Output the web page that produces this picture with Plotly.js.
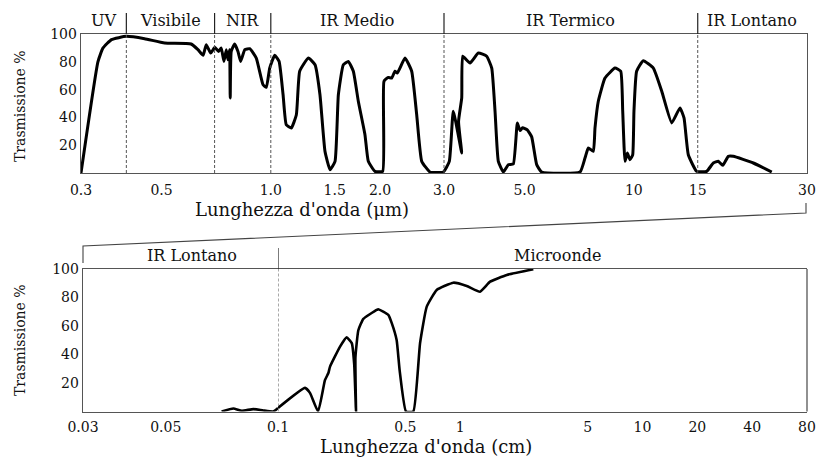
<!DOCTYPE html>
<html><head><meta charset="utf-8">
<script src="https://cdn.plot.ly/plotly-3.0.1.min.js"></script>
<style>html,body{margin:0;padding:0;background:#fff}#chart{width:819px;height:457px}</style>
</head><body><div id="chart"></div>
<script>
// ---- Data ----
const ir_wavelength_um = [0.300,0.334,0.345,0.364,0.400,0.449,0.510,0.603,0.630,0.651,
  0.664,0.683,0.701,0.718,0.730,0.743,0.754,0.762,0.770,0.773,
  0.778,0.795,0.812,0.826,0.848,0.875,0.912,0.952,0.972,0.993,
  1.025,1.054,1.081,1.103,1.139,1.176,1.201,1.269,1.324,1.366,
  1.410,1.456,1.503,1.535,1.584,1.635,1.688,1.742,1.817,1.856,
  1.936,2.033,2.050,2.107,2.153,2.198,2.231,2.343,2.444,2.523,
  2.605,2.745,2.987,3.103,3.182,3.357,3.290,3.357,3.378,3.538,
  3.730,3.933,4.061,4.147,4.234,4.371,4.511,4.657,4.777,4.859,
  4.940,5.089,5.232,5.401,5.574,7.108,7.337,7.494,7.735,7.818,
  7.983,8.330,8.876,9.204,9.321,9.457,9.597,9.761,9.929,10.01,
  10.18,10.62,11.32,11.94,12.72,13.40,13.75,14.13,14.90,15.88,
  16.56,17.09,17.58,18.21,18.80,21.34,23.99];
const ir_transmission = [0,80,90,96,98.3,96.6,93.5,92.8,88.7,84.7,
  92.3,86.3,90.4,87.5,89.9,80.3,88.7,81.5,88.7,54,
  87.5,92.8,87.5,80.3,88.7,89.4,82.7,63.5,61.6,75.5,
  84.7,80.3,56.3,34.7,32.4,41.9,73.2,82.7,77.9,56.3,
  15.6,2.4,8.4,56.3,77.9,80.3,73.2,51.6,27.6,8.4,
  1.2,1.2,66,68.8,68.3,73.2,71.9,82.7,73.2,41.9,
  8.4,0.7,0.7,8.4,44.4,14.4,37,54,84,79.1,
  86.3,84,75.5,44.4,8.4,0.7,6,6.5,36,30.5,
  32.5,31,26,6,0.7,0.7,10.8,18,15.6,32.4,
  51.6,68.3,75.5,73.2,44.4,8.4,14.4,9.6,13.1,44.4,
  73.2,80.8,75.5,58.8,36,46.8,39.6,13.1,1.2,1.2,
  7.2,8.4,5.5,12,12,7.2,0.7];

const far_ir_wavelength_cm = [0.0706,0.0759,0.0800,0.0859,0.0913,0.0971,0.1];
const far_ir_transmission  = [0,2.1,0.5,1.7,0.7,0,2.5];

const mw_wavelength_cm = [0.1,0.1407,0.150,0.166,0.181,0.189,0.193,0.219,0.238,0.254,
  0.262,0.268,0.266,0.276,0.294,0.348,0.355,0.403,0.421,0.448,
  0.465,0.504,0.553,0.602,0.655,0.743,0.917,1.086,1.284,1.458,1.800,2.519];
const mw_transmission = [2.5,16.6,12.9,0,22,27,31.5,45.5,52,48,
  33,0,38,57,65,71.3,71.8,67.8,62,50,
  29,0,0,48,73.6,85.3,90.4,88.1,84.1,91.1,95.8,99.8];

const ir_tick_vals = [0.3,0.5,1,1.5,2,3,5,10,15,30];
const ir_tick_text = ['0.3','0.5','1.0','1.5','2.0','3.0','5.0','10','15','30'];
const far_tick_vals = [0.03,0.05];
const far_tick_text = ['0.03','0.05'];
const mw_tick_vals = [0.1,0.5,1,5,10,20,40,80];
const mw_tick_text = ['0.1','0.5','1','5','10','20','40','80'];
const y_tick_vals = [20,40,60,80,100];

const ir_band_bounds = [0.3,0.4,0.7,1.0,3.0,15,30];
const ir_band_names = ['UV','Visibile','NIR','IR Medio','IR Termico','IR Lontano'];
const low_band_names = ['IR Lontano','Microonde'];
const low_band_label_at = [0.0588, 3.4];
const low_band_bound = 0.1;

// ---- Layout geometry ----
const W = 819, H = 457;
const px = v => v / W, py = v => (H - v) / H;
const TOPY = [py(173), py(34)];
const BOTY = [py(411.5), py(269)];
const XTOP = [px(81), px(807)];
const XB1 = [px(83), px(278)];
const XB2 = [px(278), px(807)];

const serif = 'DejaVu Serif, Liberation Serif, serif';
const axLine = '#555';
const tickFont = {family: serif, size: 14, color: '#111'};

function xAxis(domain, anchor, lo, hi, vals, text, tl) {
  return {domain, anchor, type: 'log', range: [Math.log10(lo), Math.log10(hi)],
    tickmode: 'array', tickvals: vals, ticktext: text, ticks: 'outside', ticklen: tl,
    tickcolor: 'rgba(0,0,0,0)', tickfont: tickFont, showgrid: false, zeroline: false,
    showline: true, mirror: true, linecolor: axLine, linewidth: 1.3, fixedrange: true};
}
function yAxis(domain, anchor, mirror) {
  return {domain, anchor, range: [0, 100], tickmode: 'array', tickvals: y_tick_vals,
    ticks: '', tickfont: tickFont, showgrid: false, zeroline: false,
    showline: true, mirror, linecolor: axLine, linewidth: 1.3, fixedrange: true};
}

const lineStyle = w => ({color: '#000', width: w, shape: 'spline', smoothing: 0.4});
const traces = [
  {x: ir_wavelength_um, y: ir_transmission, xaxis: 'x', yaxis: 'y', mode: 'lines', line: lineStyle(3), hoverinfo: 'skip'},
  {x: far_ir_wavelength_cm, y: far_ir_transmission, xaxis: 'x2', yaxis: 'y2', mode: 'lines', line: lineStyle(2.6), hoverinfo: 'skip'},
  {x: mw_wavelength_cm, y: mw_transmission, xaxis: 'x3', yaxis: 'y2', mode: 'lines', line: lineStyle(2.6), hoverinfo: 'skip'}
];

const shapes = [];
const annotations = [];
const bandFont = {family: serif, size: 16, color: '#111'};
const ann = o => Object.assign({showarrow: false, xanchor: 'center', yanchor: 'middle'}, o);

// Top band separators (solid above, dashed inside)
ir_band_bounds.slice(1, -1).forEach(b => {
  shapes.push({type: 'line', xref: 'x', yref: 'paper', x0: b, x1: b, y0: TOPY[1], y1: py(13), line: {color: '#222', width: 1.2}});
  shapes.push({type: 'line', xref: 'x', yref: 'y', x0: b, x1: b, y0: 0, y1: 100, line: {color: '#555', width: 1, dash: '3px,2px'}});
});
ir_band_names.forEach((n, i) => {
  annotations.push(ann({text: n, xref: 'x', yref: 'paper', x: Math.log10(Math.sqrt(ir_band_bounds[i] * ir_band_bounds[i + 1])),
    y: py(21), font: bandFont}));
});
// Bottom band separator
shapes.push({type: 'line', xref: 'x3', yref: 'paper', x0: low_band_bound, x1: low_band_bound, y0: BOTY[1], y1: py(248), line: {color: '#222', width: 1.2}});
shapes.push({type: 'line', xref: 'x3', yref: 'y2', x0: low_band_bound, x1: low_band_bound, y0: 0, y1: 100, line: {color: '#555', width: 1, dash: '3px,2px'}});
annotations.push(ann({text: low_band_names[0], xref: 'x2', yref: 'paper', x: Math.log10(low_band_label_at[0]), y: py(255), font: bandFont}));
annotations.push(ann({text: low_band_names[1], xref: 'x3', yref: 'paper', x: Math.log10(low_band_label_at[1]), y: py(255), font: bandFont}));
// right border of lower box
shapes.push({type: 'line', xref: 'paper', yref: 'paper', x0: XB2[1], x1: XB2[1], y0: BOTY[0], y1: BOTY[1], line: {color: axLine, width: 1.3}});
// zoom connector between the panels
shapes.push({type: 'path', xref: 'paper', yref: 'paper',
  path: `M ${px(806)},${py(203)} L ${px(806)},${py(213)} L ${px(83)},${py(246)} L ${px(83)},${py(263)}`,
  line: {color: '#444', width: 1.1}});

// Axis titles
const titleFont = {family: serif, size: 18, color: '#111'};
const yTitleFont = {family: serif, size: 14, color: '#111'};
annotations.push(ann({text: "Lunghezza d'onda (μm)", xref: 'paper', yref: 'paper', x: px(302), y: py(210), font: titleFont}));
annotations.push(ann({text: "Lunghezza d'onda (cm)", xref: 'paper', yref: 'paper', x: px(426), y: py(446), font: titleFont}));
annotations.push(ann({text: 'Trasmissione %', xref: 'paper', yref: 'paper', x: px(20), y: py(106), textangle: -90, font: yTitleFont}));
annotations.push(ann({text: 'Trasmissione %', xref: 'paper', yref: 'paper', x: px(20), y: py(340), textangle: -90, font: yTitleFont}));

const layout = {
  width: W, height: H, margin: {l: 0, r: 0, t: 0, b: 0},
  paper_bgcolor: '#fff', plot_bgcolor: '#fff', showlegend: false,
  xaxis: xAxis(XTOP, 'y', 0.3, 30, ir_tick_vals, ir_tick_text, 4),
  yaxis: yAxis(TOPY, 'x', true),
  xaxis2: xAxis(XB1, 'y2', 0.03, 0.1, far_tick_vals, far_tick_text, 2),
  xaxis3: xAxis(XB2, 'y2', 0.1, 80, mw_tick_vals, mw_tick_text, 2),
  yaxis2: yAxis(BOTY, 'x2', false),
  shapes, annotations
};
Plotly.newPlot('chart', traces, layout, {staticPlot: true, displayModeBar: false});
</script>
</body></html>
